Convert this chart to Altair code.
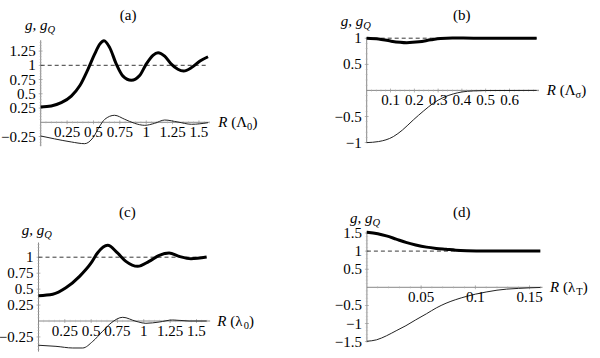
import altair as alt
import pandas as pd

W, H = 600, 358
FONT = "Liberation Serif"
AXC = "#7a7a7a"

# ---------------- data ----------------
# panel (a)
a_g_x = [0, 0.10, 0.195, 0.29, 0.37, 0.448, 0.51, 0.56, 0.60, 0.654, 0.717, 0.78, 0.859, 0.938, 1.0, 1.064, 1.112, 1.175, 1.238, 1.30, 1.355, 1.43, 1.51, 1.586]
a_g_y = [0.268, 0.286, 0.344, 0.46, 0.64, 0.93, 1.19, 1.37, 1.43, 1.31, 1.02, 0.81, 0.737, 0.82, 1.02, 1.175, 1.22, 1.16, 1.02, 0.93, 0.90, 0.96, 1.075, 1.15]
a_q_x = [0, 0.13, 0.29, 0.417, 0.496, 0.56, 0.607, 0.70, 0.796, 0.89, 0.986, 1.08, 1.175, 1.30, 1.43, 1.586]
a_q_y = [-0.24, -0.29, -0.345, -0.375, -0.27, -0.065, 0.052, 0.123, 0.053, -0.018, -0.053, -0.018, 0.04, 0.005, -0.035, -0.007]
a_xticks = [0.25, 0.5, 0.75, 1, 1.25, 1.5]
a_xlabels = ["0.25", "0.5", "0.75", "1", "1.25", "1.5"]
a_yticks = [-0.25, 0.25, 0.5, 0.75, 1, 1.25]
a_ylabels = ["\u22120.25", "0.25", "0.5", "0.75", "1", "1.25"]

# panel (b)
b_g_x = [0, 0.05, 0.1, 0.168, 0.22, 0.27, 0.31, 0.36, 0.45, 0.714]
b_g_y = [1.0, 0.985, 0.945, 0.915, 0.93, 0.97, 0.995, 1.003, 1.0, 1.0]
b_q_x = [0, 0.05, 0.112, 0.15, 0.196, 0.24, 0.28, 0.32, 0.364, 0.40, 0.448, 0.5, 0.714]
b_q_y = [-1.0, -0.98, -0.885, -0.76, -0.565, -0.39, -0.245, -0.14, -0.067, -0.03, -0.01, -0.003, 0.0]
b_xticks = [0.1, 0.2, 0.3, 0.4, 0.5, 0.6]
b_xlabels = ["0.1", "0.2", "0.3", "0.4", "0.5", "0.6"]
b_yticks = [-1, -0.5, 0.5, 1]
b_ylabels = ["\u22121", "\u22120.5", "0.5", "1"]

# panel (c)
c_g_x = [0, 0.135, 0.26, 0.39, 0.50, 0.56, 0.657, 0.75, 0.83, 0.942, 1.05, 1.147, 1.24, 1.337, 1.448, 1.597]
c_g_y = [0.397, 0.42, 0.52, 0.70, 0.91, 1.066, 1.186, 1.066, 0.935, 0.857, 0.935, 1.03, 1.066, 1.013, 0.977, 1.003]
c_q_x = [0, 0.166, 0.325, 0.42, 0.515, 0.61, 0.69, 0.80, 0.926, 1.02, 1.147, 1.274, 1.43, 1.597]
c_q_y = [-0.38, -0.397, -0.423, -0.423, -0.32, -0.16, -0.03, 0.058, -0.005, -0.036, -0.016, 0.016, 0.0, 0.0]
c_xticks = [0.25, 0.5, 0.75, 1, 1.25, 1.5]
c_xlabels = ["0.25", "0.5", "0.75", "1", "1.25", "1.5"]
c_yticks = [-0.25, 0.25, 0.5, 0.75, 1]
c_ylabels = ["\u22120.25", "0.25", "0.5", "0.75", "1"]

# panel (d)
d_g_x = [0, 0.01, 0.018, 0.027, 0.036, 0.045, 0.055, 0.064, 0.073, 0.082, 0.092, 0.11, 0.16]
d_g_y = [1.52, 1.48, 1.42, 1.33, 1.24, 1.17, 1.11, 1.075, 1.05, 1.025, 1.01, 1.0, 1.0]
d_q_x = [0, 0.009, 0.018, 0.027, 0.036, 0.045, 0.055, 0.064, 0.073, 0.082, 0.092, 0.10, 0.11, 0.12, 0.129, 0.14, 0.15, 0.16]
d_q_y = [-1.49, -1.45, -1.34, -1.20, -1.06, -0.90, -0.73, -0.57, -0.44, -0.34, -0.25, -0.19, -0.13, -0.08, -0.05, -0.03, -0.015, -0.005]
d_xticks = [0.05, 0.1, 0.15]
d_xlabels = ["0.05", "0.1", "0.15"]
d_yticks = [-1.5, -1, -0.5, 0.5, 1, 1.5]
d_ylabels = ["\u22121.5", "\u22121", "\u22120.5", "0.5", "1", "1.5"]

# ---------------- layout / style per panel ----------------
panels = [
    dict(name="(a)", gx=a_g_x, gy=a_g_y, qx=a_q_x, qy=a_q_y, xt=a_xticks, xl=a_xlabels, yt=a_yticks, yl=a_ylabels,
         origin=(40.7, 122.3), kx=105.5, ky=57.0, xaxis=(0, 1.6), yaxis=(-0.42, 1.44), minor=0.05, yminor=0.05,
         title_d=(3, -25), g_d=(-15.7, -10.2),
         rlab=[("R", 8.8, "italic", 15, 5), ("(\u039b", 21.8, "normal", 15, 5), ("0", 37.6, "normal", 10.5, 8), (")", 42.9, "normal", 15, 5)]),
    dict(name="(b)", gx=b_g_x, gy=b_g_y, qx=b_q_x, qy=b_q_y, xt=b_xticks, xl=b_xlabels, yt=b_yticks, yl=b_ylabels,
         origin=(366.7, 90.4), kx=238.0, ky=52.2, xaxis=(0, 0.724), yaxis=(-1.01, 1.02), minor=0.02, yminor=0.1,
         title_d=(9, -22), g_d=(-26, -11),
         rlab=[("R", 7.7, "italic", 15, 5), ("(\u039b", 20.7, "normal", 15, 5), ("\u03c3", 36.5, "normal", 10.5, 8), (")", 42.3, "normal", 15, 5)]),
    dict(name="(c)", gx=c_g_x, gy=c_g_y, qx=c_q_x, qy=c_q_y, xt=c_xticks, xl=c_xlabels, yt=c_yticks, yl=c_ylabels,
         origin=(38.5, 321.0), kx=105.3, ky=63.8, xaxis=(0, 1.63), yaxis=(-0.48, 1.23), minor=0.05, yminor=0.05,
         title_d=(3, -31), g_d=(-16.8, -7.5),
         rlab=[("R", 7.2, "italic", 15, 5), ("(\u03bb", 20.2, "normal", 15, 5), ("0", 33.5, "normal", 10.5, 8), (")", 38.8, "normal", 15, 5)]),
    dict(name="(d)", gx=d_g_x, gy=d_g_y, qx=d_q_x, qy=d_q_y, xt=d_xticks, xl=d_xlabels, yt=d_yticks, yl=d_ylabels,
         origin=(366.9, 287.3), kx=1084.0, ky=36.2, xaxis=(0, 0.162), yaxis=(-1.52, 1.56), minor=0.01, yminor=0.1,
         title_d=(7, -19), g_d=(-16.9, -7.5),
         rlab=[("R", 7.5, "italic", 15, 5), ("(\u03bb", 20.5, "normal", 15, 5), ("T", 33.8, "normal", 10.5, 8), (")", 40.2, "normal", 15, 5)]),
]


def build(p):
    ox, oy = p["origin"]
    kx, ky = p["kx"], p["ky"]
    xs = alt.Scale(domain=[-ox / kx, (W - ox) / kx], nice=False, zero=False)
    ys = alt.Scale(domain=[-(H - oy) / ky, oy / ky], nice=False, zero=False)

    def X(f):
        return alt.X(f, type="quantitative", scale=xs, axis=None)

    def Y(f):
        return alt.Y(f, type="quantitative", scale=ys, axis=None)

    xa0, xa1 = p["xaxis"]
    ya0, ya1 = p["yaxis"]
    L = []
    # axis lines
    L.append(alt.Chart(pd.DataFrame({"x": [xa0], "x2": [xa1], "y": [0]})).mark_rule(color=AXC, strokeWidth=0.9)
             .encode(x=X("x"), x2="x2", y=Y("y")))
    L.append(alt.Chart(pd.DataFrame({"x": [0], "y": [ya0], "y2": [ya1]})).mark_rule(color=AXC, strokeWidth=0.9)
             .encode(x=X("x"), y=Y("y"), y2="y2"))
    # minor ticks
    m, ym = p["minor"], p["yminor"]
    mx = [round(i * m, 6) for i in range(1, int(xa1 / m) + 1)]
    my = [round(i * ym, 6) for i in range(int(ya0 / ym), int(ya1 / ym) + 1)]
    my = [v for v in my if v != 0 and ya0 <= v <= ya1]
    L.append(alt.Chart(pd.DataFrame({"v": mx, "z": [0] * len(mx)})).mark_tick(orient="vertical", size=2.5, thickness=0.6, color="#b0b0b0")
             .encode(x=X("v"), y=Y("z")))
    L.append(alt.Chart(pd.DataFrame({"v": my, "z": [0] * len(my)})).mark_tick(orient="horizontal", size=2.5, thickness=0.6, color="#b0b0b0")
             .encode(x=X("z"), y=Y("v")))
    # major ticks
    L.append(alt.Chart(pd.DataFrame({"v": p["xt"], "z": [0] * len(p["xt"])})).mark_tick(orient="vertical", size=4, thickness=0.8, color="#909090")
             .encode(x=X("v"), y=Y("z")))
    L.append(alt.Chart(pd.DataFrame({"v": p["yt"], "z": [0] * len(p["yt"])})).mark_tick(orient="horizontal", size=4, thickness=0.8, color="#909090")
             .encode(x=X("z"), y=Y("v")))
    # dashed asymptote at 1
    L.append(alt.Chart(pd.DataFrame({"x": [0], "x2": [p["gx"][-1]], "y": [1]})).mark_rule(color="#222", strokeWidth=0.9, strokeDash=[4, 3])
             .encode(x=X("x"), x2="x2", y=Y("y")))
    # curves
    L.append(alt.Chart(pd.DataFrame({"x": p["qx"], "y": p["qy"]})).mark_line(color="#222", strokeWidth=1.0, interpolate="monotone")
             .encode(x=X("x"), y=Y("y"), order="x:Q"))
    L.append(alt.Chart(pd.DataFrame({"x": p["gx"], "y": p["gy"]})).mark_line(color="#000", strokeWidth=3.0, interpolate="monotone")
             .encode(x=X("x"), y=Y("y"), order="x:Q"))
    # tick labels
    L.append(alt.Chart(pd.DataFrame({"v": p["xt"], "z": [0] * len(p["xt"]), "t": p["xl"]}))
             .mark_text(font=FONT, fontSize=15, align="center", baseline="middle", dy=10, color="#000")
             .encode(x=X("v"), y=Y("z"), text="t:N"))
    L.append(alt.Chart(pd.DataFrame({"v": p["yt"], "z": [0] * len(p["yt"]), "t": p["yl"]}))
             .mark_text(font=FONT, fontSize=15, align="right", baseline="middle", dx=-5, color="#000")
             .encode(x=X("z"), y=Y("v"), text="t:N"))
    # panel title
    tdx, tdy = p["title_d"]
    L.append(alt.Chart(pd.DataFrame({"x": [(xa0 + xa1) / 2], "y": [ya1], "t": [p["name"]]}))
             .mark_text(font=FONT, fontSize=15, align="center", baseline="middle", dx=tdx, dy=tdy, color="#000")
             .encode(x=X("x"), y=Y("y"), text="t:N"))
    # y label  g, g_Q
    gdx, gdy = p["g_d"]
    anc = pd.DataFrame({"x": [0], "y": [ya1]})
    L.append(alt.Chart(anc).mark_text(text="g, g", font=FONT, fontStyle="italic", fontSize=15, align="left", baseline="alphabetic",
                                      dx=gdx, dy=gdy, color="#000").encode(x=X("x"), y=Y("y")))
    L.append(alt.Chart(anc).mark_text(text="Q", font=FONT, fontStyle="italic", fontSize=10.5, align="left", baseline="alphabetic",
                                      dx=gdx + 22.5, dy=gdy + 3, color="#000").encode(x=X("x"), y=Y("y")))
    # x label  R (..)
    anc2 = pd.DataFrame({"x": [xa1], "y": [0]})
    for txt, dx, style, size, dy in p["rlab"]:
        L.append(alt.Chart(anc2).mark_text(text=txt, font=FONT, fontStyle=style, fontSize=size, align="left", baseline="alphabetic",
                                           dx=dx, dy=dy, color="#000").encode(x=X("x"), y=Y("y")))
    return alt.layer(*L)


chart = alt.layer(*[build(p) for p in panels]).resolve_scale(x="independent", y="independent").properties(
    width=W, height=H, padding=0, autosize=alt.AutoSizeParams(type="none"), background="white"
).configure_view(stroke=None)

chart.save("out.html", embed_options={"renderer": "svg", "actions": False})
